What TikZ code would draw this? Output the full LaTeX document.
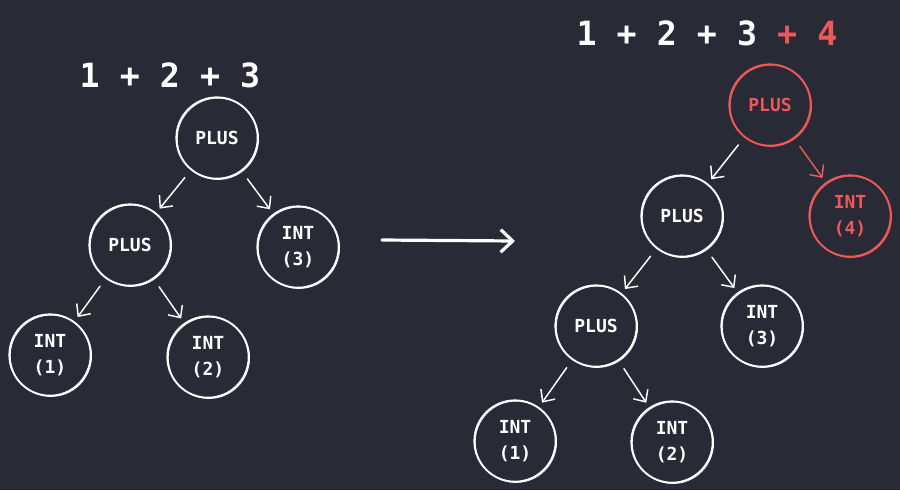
\documentclass[tikz,border=0pt]{standalone}
\usepackage{fontspec}
\setmonofont{DejaVu Sans Mono}
\usetikzlibrary{arrows.meta}
\definecolor{bg}{RGB}{40,42,54}
\definecolor{hl}{RGB}{238,88,88}

\begin{document}
\begin{tikzpicture}[x=0.75pt,y=-0.75pt, line join=round, line cap=round,
		nd/.style={circle,draw=white,text=white,line width=1.4pt,minimum size=61pt,inner sep=0pt,align=center,font=\ttfamily\bfseries\fontsize{13.5}{20}\selectfont,
			postaction={draw,line width=0.6pt,transform canvas={shift={(0.7pt,-0.6pt)}}}},
		red/.style={draw=hl,text=hl},
		arr/.style={-{Straight Barb[length=7pt,width=13pt]},white,line width=1.1pt,shorten <=7pt,shorten >=4pt},
		ttl/.style={font=\ttfamily\bfseries\fontsize{25}{28}\selectfont,text=white}]
			\fill[bg] (0,0) rectangle (900,490);
			% before
			\node[ttl] (sum1) at (170,75) {1 + 2 + 3};
			\node[nd] (p1) at (217,138) {PLUS};
			\node[nd] (p2) at (130,245) {PLUS};
			\node[nd] (i3) at (298,247) {INT\\(3)};
			\node[nd] (i1) at (50,355) {INT\\(1)};
			\node[nd] (i2) at (208,357) {INT\\(2)};
			\draw[arr] (p1)--(p2);
			\draw[arr] (p1)--(i3);
			\draw[arr] (p2)--(i1);
			\draw[arr] (p2)--(i2);
			% big arrow
			\coordinate (a0) at (382,240);
			\coordinate (a1) at (515,241);
			\draw[-{Straight Barb[length=9pt,width=17pt]},white,line width=2.4pt] (a0)--(a1);
			% after
			\node[ttl] (sum2) at (707,33) {1 + 2 + 3 \textcolor{hl}{+ 4}};
			\node[nd,red] (q0) at (770,105) {PLUS};
			\node[nd,red] (j4) at (850,216) {INT\\(4)};
			\node[nd] (q1) at (682,216) {PLUS};
			\node[nd] (j3) at (762,326) {INT\\(3)};
			\node[nd] (q2) at (596,326) {PLUS};
			\node[nd] (j1) at (515,441) {INT\\(1)};
			\node[nd] (j2) at (672,442) {INT\\(2)};
			\draw[arr] (q0)--(q1);
			\draw[arr,hl] (q0)--(j4);
			\draw[arr] (q1)--(q2);
			\draw[arr] (q1)--(j3);
			\draw[arr] (q2)--(j1);
			\draw[arr] (q2)--(j2);
		\end{tikzpicture}
\end{document}
